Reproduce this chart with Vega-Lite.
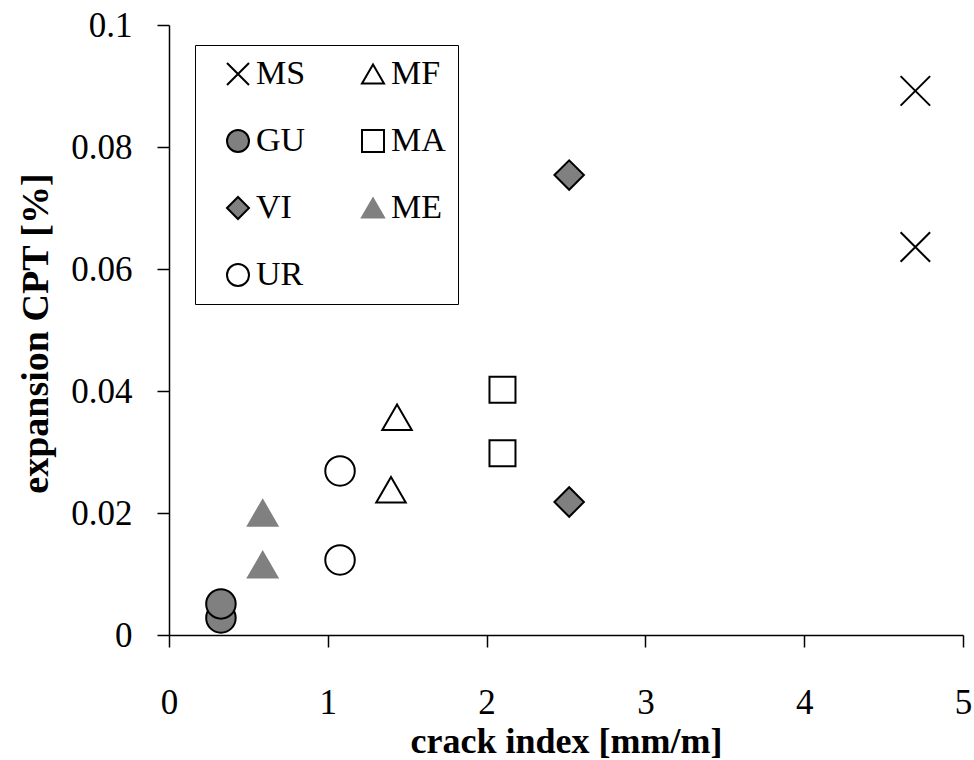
{
  "$schema": "https://vega.github.io/schema/vega-lite/v6.json",
  "width": 794,
  "height": 610,
  "autosize": "none",
  "padding": {"left": 169, "top": 25, "right": 11, "bottom": 125},
  "background": "white",
  "config": {
    "view": {"stroke": null},
    "font": "Liberation Serif"
  },
  "data": {
    "values": [
      {"mix": "MS", "crack": 4.70, "expansion": 0.0892},
      {"mix": "MS", "crack": 4.70, "expansion": 0.0636},
      {"mix": "VI", "crack": 2.52, "expansion": 0.0754},
      {"mix": "VI", "crack": 2.52, "expansion": 0.0218},
      {"mix": "MA", "crack": 2.10, "expansion": 0.0402},
      {"mix": "MA", "crack": 2.10, "expansion": 0.0298},
      {"mix": "MF", "crack": 1.436, "expansion": 0.0357},
      {"mix": "MF", "crack": 1.398, "expansion": 0.0238},
      {"mix": "ME", "crack": 0.59, "expansion": 0.0200},
      {"mix": "ME", "crack": 0.59, "expansion": 0.0115},
      {"mix": "UR", "crack": 1.077, "expansion": 0.0269},
      {"mix": "UR", "crack": 1.077, "expansion": 0.0123},
      {"mix": "GU", "crack": 0.327, "expansion": 0.0028},
      {"mix": "GU", "crack": 0.327, "expansion": 0.0051}
    ]
  },
  "encoding": {
    "x": {
      "field": "crack", "type": "quantitative",
      "scale": {"domain": [0, 5], "nice": false, "zero": false},
      "axis": {
        "title": "crack index [mm/m]",
        "values": [0, 1, 2, 3, 4, 5],
        "format": "d",
        "grid": false,
        "domainColor": "black", "domainWidth": 1.5,
        "tickColor": "black", "tickWidth": 1.5, "tickSize": 12,
        "labelFont": "Liberation Serif", "labelFontSize": 35, "labelColor": "black",
        "labelBaseline": "alphabetic", "labelPadding": 66,
        "labelFlush": false, "labelOverlap": false,
        "titleFont": "Liberation Serif", "titleFontSize": 36, "titleFontWeight": "bold", "titleColor": "black",
        "titleBaseline": "alphabetic", "titleY": 117
      }
    },
    "y": {
      "field": "expansion", "type": "quantitative",
      "scale": {"domain": [0, 0.1], "nice": false, "zero": false},
      "axis": {
        "title": "expansion CPT  [%]",
        "values": [0, 0.02, 0.04, 0.06, 0.08, 0.1],
        "format": "~g",
        "grid": false,
        "domainColor": "black", "domainWidth": 1.5,
        "tickColor": "black", "tickWidth": 1.5, "tickSize": 12,
        "labelFont": "Liberation Serif", "labelFontSize": 35, "labelColor": "black",
        "labelPadding": 25, "labelFlush": false, "labelOverlap": false,
        "titleFont": "Liberation Serif", "titleFontSize": 38, "titleFontWeight": "bold", "titleColor": "black",
        "titleAngle": -90, "titleAlign": "center", "titleBaseline": "alphabetic",
        "titleX": -122, "titleY": 308
      }
    },
    "shape": {
      "field": "mix", "type": "nominal",
      "scale": {
        "domain": ["MS", "MF", "GU", "MA", "VI", "ME", "UR"],
        "range": ["M-1,-1L1,1M-1,1L1,-1", "triangle-up", "circle", "square", "diamond", "triangle-up", "circle"]
      },
      "legend": {
        "title": null,
        "orient": "none", "legendX": 26, "legendY": 20,
        "columns": 2, "direction": "horizontal",
        "strokeColor": "black", "fillColor": "white",
        "padding": 12,
        "symbolSize": 484, "symbolStrokeWidth": 2, "symbolOffset": 14,
        "labelFont": "Liberation Serif", "labelFontSize": 34, "labelColor": "black",
        "labelOffset": 1, "rowPadding": 33, "columnPadding": 36,
        "labelLimit": 200,
        "encode": {"legend": {"update": {"strokeWidth": {"value": 1.5}}}}
      }
    },
    "fill": {
      "field": "mix", "type": "nominal",
      "scale": {
        "domain": ["MS", "MF", "GU", "MA", "VI", "ME", "UR"],
        "range": ["white", "white", "#808080", "white", "#808080", "#808080", "white"]
      }
    },
    "stroke": {
      "field": "mix", "type": "nominal",
      "scale": {
        "domain": ["MS", "MF", "GU", "MA", "VI", "ME", "UR"],
        "range": ["black", "black", "black", "black", "black", "#808080", "black"]
      }
    }
  },
  "layer": [
    {
      "transform": [{"filter": "datum.mix != 'MA'"}],
      "mark": {"type": "point", "filled": true, "opacity": 1, "strokeWidth": 2, "size": 870}
    },
    {
      "transform": [{"filter": "datum.mix == 'MA'"}],
      "mark": {"type": "point", "filled": true, "opacity": 1, "strokeWidth": 2, "size": 676}
    }
  ]
}
